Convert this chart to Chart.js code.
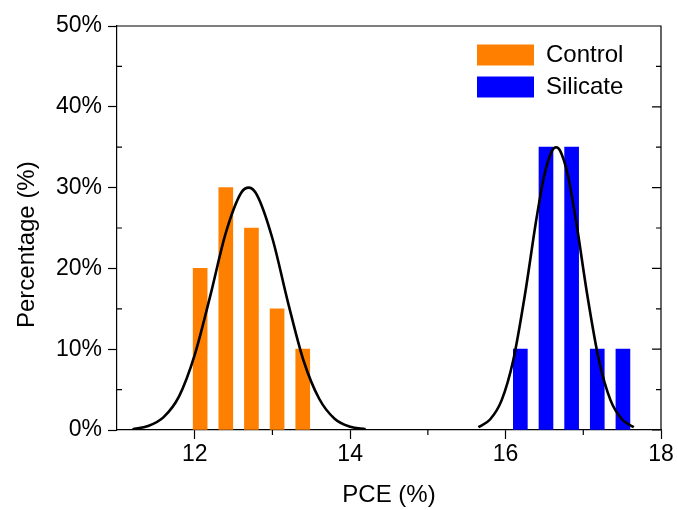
<!DOCTYPE html>
<html>
<head>
<meta charset="utf-8">
<script src="https://cdn.jsdelivr.net/npm/chart.js@4"></script>
<style>
  html, body { margin: 0; padding: 0; background: #fff; }
  #wrap { width: 678px; height: 510px; }
</style>
</head>
<body>
<div id="wrap"><canvas id="chart"></canvas></div>
<script>
// histogram bins (PCE %) and share of devices (%)
const controlPCE = [12.07, 12.40, 12.73, 13.06, 13.39];
const controlPct = [20, 30, 25, 15, 10];
const silicatePCE = [16.19, 16.52, 16.85, 17.18, 17.51];
const silicatePct = [10, 35, 35, 10, 10];

// fitted normal curves
const controlFitX = [11.2, 11.4, 11.6, 11.8, 12.0, 12.2, 12.4, 12.6, 12.7, 12.8, 13.0, 13.2, 13.4, 13.6, 13.8, 14.0, 14.2];
const controlFitY = [0.1, 0.5, 1.6, 4.2, 9.3, 16.6, 24.4, 29.4, 30.0, 29.1, 23.7, 15.8, 8.6, 3.9, 1.4, 0.4, 0.1];
const silicateFitX = [15.65, 15.8, 15.95, 16.1, 16.25, 16.4, 16.5, 16.6, 16.65, 16.7, 16.8, 16.9, 17.05, 17.2, 17.35, 17.5, 17.65];
const silicateFitY = [0.35, 1.3, 3.7, 8.7, 16.8, 26.3, 31.6, 34.6, 35.0, 34.6, 31.6, 26.3, 16.8, 8.7, 3.7, 1.3, 0.35];

const xTicks = [12, 14, 16, 18];
const xMinor = [13, 15, 17];
const yTicks = [0, 10, 20, 30, 40, 50];
const yMinor = [5, 15, 25, 35, 45];

const pts = (xs, ys) => xs.map((v, i) => ({x: v, y: ys[i]}));

Chart.defaults.font.family = "'Liberation Sans', Arial, sans-serif";
Chart.defaults.color = '#000';

// box round the plot, minor ticks, legend moved inside the plot
const frame = {
  id: 'frame',
  afterLayout(chart) {
    const lg = chart.legend;
    lg.left = 469; lg.right = lg.left + lg.width;
    lg.top = 35; lg.bottom = lg.top + lg.height;
  },
  afterDraw(chart) {
    const {ctx, chartArea: a, scales: {x, y}} = chart;
    ctx.save();
    ctx.strokeStyle = '#000';
    ctx.lineWidth = 1.2;
    ctx.beginPath();
    ctx.moveTo(a.left, a.top); ctx.lineTo(a.right, a.top); ctx.lineTo(a.right, a.bottom);
    xMinor.forEach(v => {
      const p = x.getPixelForValue(v);
      ctx.moveTo(p, a.bottom); ctx.lineTo(p, a.bottom + 5);
    });
    yMinor.forEach(v => {
      const p = y.getPixelForValue(v);
      ctx.moveTo(a.left, p); ctx.lineTo(a.left + 5, p);
      ctx.moveTo(a.right, p); ctx.lineTo(a.right - 5, p);
    });
    yTicks.forEach(v => {
      const p = y.getPixelForValue(v);
      ctx.moveTo(a.right, p); ctx.lineTo(a.right - 9, p);
    });
    ctx.stroke();
    ctx.restore();
  }
};

new Chart(document.getElementById('chart'), {
  type: 'line',
  data: {
    datasets: [
      {type: 'bar', label: 'Control', data: pts(controlPCE, controlPct), backgroundColor: '#FF8000',
       borderWidth: 0, barThickness: 14, grouped: false, order: 1},
      {type: 'bar', label: 'Silicate', data: pts(silicatePCE, silicatePct), backgroundColor: '#0000FF',
       borderWidth: 0, barThickness: 14, grouped: false, order: 1},
      {label: 'fit1', data: pts(controlFitX, controlFitY), borderColor: '#000', borderWidth: 2.6,
       pointRadius: 0, cubicInterpolationMode: 'monotone', fill: false, order: 0},
      {label: 'fit2', data: pts(silicateFitX, silicateFitY), borderColor: '#000', borderWidth: 2.6,
       pointRadius: 0, cubicInterpolationMode: 'monotone', fill: false, order: 0}
    ]
  },
  options: {
    responsive: true,
    maintainAspectRatio: false,
    animation: false,
    layout: {padding: {left: 0, right: 17, top: 26, bottom: 0}},
    plugins: {
      tooltip: {enabled: false},
      legend: {
        position: 'chartArea',
        align: 'start',
        labels: {
          filter: item => item.datasetIndex < 2,
          boxWidth: 57, boxHeight: 21, padding: 8,
          font: {size: 24}, color: '#000'
        }
      }
    },
    scales: {
      x: {
        type: 'linear', min: 11, max: 18, offset: false,
        afterBuildTicks: s => { s.ticks = xTicks.map(v => ({value: v})); },
        afterFit: s => { s.height = 80; },
        grid: {drawOnChartArea: false, offset: false, tickLength: 9, tickColor: '#000', tickWidth: 1.2},
        border: {color: '#000', width: 1.2},
        ticks: {font: {size: 23}, padding: 2, maxRotation: 0, color: '#000'},
        title: {display: true, text: 'PCE (%)', font: {size: 24}, padding: {top: 0, bottom: 0}, color: '#000'}
      },
      y: {
        min: 0, max: 50,
        afterBuildTicks: s => { s.ticks = yTicks.map(v => ({value: v})); },
        afterFit: s => { s.width = 117; },
        grid: {drawOnChartArea: false, tickLength: 9, tickColor: '#000', tickWidth: 1.2},
        border: {color: '#000', width: 1.2},
        ticks: {font: {size: 23}, padding: 6, color: '#000', callback: v => v + '%'},
        title: {display: true, text: 'Percentage (%)     ', font: {size: 24}, padding: {top: 13, bottom: 0}, color: '#000'}
      }
    }
  },
  plugins: [frame]
});
</script>
</body>
</html>
